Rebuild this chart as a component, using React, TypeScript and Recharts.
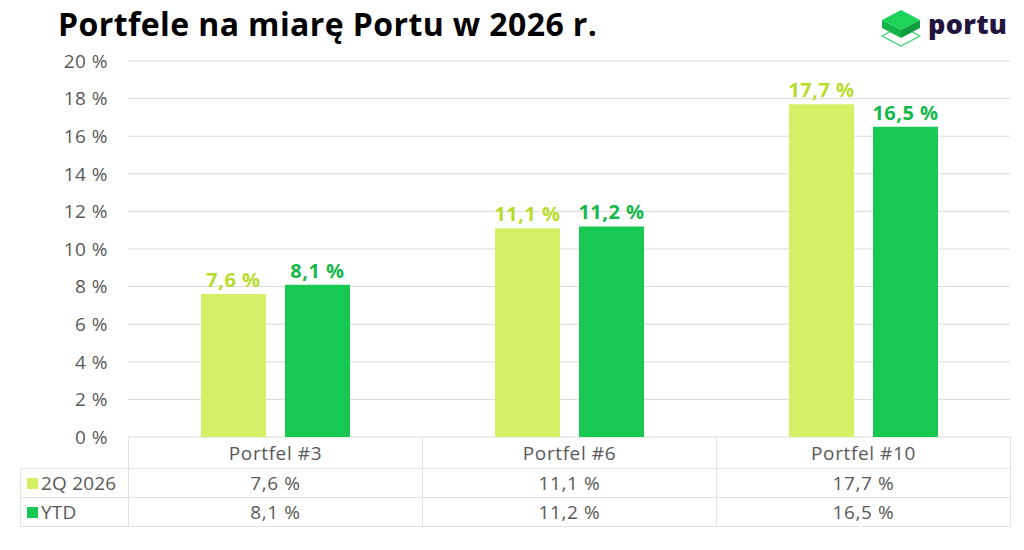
import React from "react";
import { BarChart, Bar, XAxis, YAxis, CartesianGrid, LabelList } from "recharts";

const categories = ["Portfel #3", "Portfel #6", "Portfel #10"];
const q2Values = [7.6, 11.1, 17.7];
const ytdValues = [8.1, 11.2, 16.5];
const yTicks = [0, 2, 4, 6, 8, 10, 12, 14, 16, 18, 20];
const seriesNames = ["2Q 2026", "YTD"];

const LIGHT = "#d4f064";
const DARK = "#17c952";
const LIGHT_TEXT = "#b7dc2a";
const DARK_TEXT = "#14b84a";
const FONT = "'Open Sans', sans-serif";

const data = categories.map((name, i) => ({ name, q2: q2Values[i], ytd: ytdValues[i] }));

const fmt = (v: number) => `${v.toFixed(1).replace(".", ",")} %`;

const PLOT_LEFT = 128;
const PLOT_RIGHT = 1010;
const PLOT_TOP = 61;
const PLOT_BOTTOM = 437;
const COL_W = (PLOT_RIGHT - PLOT_LEFT) / categories.length;

const Logo = () => (
  <div style={{ position: "absolute", left: 878, top: 6, display: "flex", alignItems: "center" }}>
    <svg width={46} height={44} viewBox="0 0 46 44">
      <polygon points="4,30 23,20 42,30 23,40" fill="none" stroke="#3ad36a" strokeWidth={1.2} />
      <polygon points="4,14 23,4 42,14 23,24" fill="#1ed35a" />
      <polygon points="4,14 23,24 23,32 4,22" fill="#13b548" />
      <polygon points="42,14 23,24 23,32 42,22" fill="#0f9e3e" />
    </svg>
    <span style={{ fontFamily: FONT, fontWeight: 800, fontSize: 27, color: "#22143f", marginLeft: 4, marginTop: -10, letterSpacing: 0.3 }}>
      portu
    </span>
  </div>
);

const cell: React.CSSProperties = {
  position: "absolute",
  display: "flex",
  alignItems: "center",
  justifyContent: "center",
  fontFamily: FONT,
  fontSize: 19,
  letterSpacing: 0.6,
  color: "#595959",
  boxSizing: "border-box",
};

const DataTable = () => {
  const rows = [q2Values, ytdValues];
  const colors = [LIGHT, DARK];
  const line = "1px solid #e3e3e3";
  return (
    <>
      {categories.map((c, i) => (
        <div
          key={c}
          style={{
            ...cell,
            left: PLOT_LEFT + i * COL_W,
            top: PLOT_BOTTOM,
            width: COL_W + 1,
            height: 32,
            borderLeft: line,
            borderRight: line,
          }}
        >
          {c}
        </div>
      ))}
      {rows.map((vals, r) => (
        <React.Fragment key={r}>
          <div
            style={{
              ...cell,
              left: 20,
              top: 468 + r * 29,
              width: PLOT_LEFT - 20 + 1,
              height: 30,
              border: line,
              justifyContent: "flex-start",
              paddingLeft: 6,
              letterSpacing: 0.2,
            }}
          >
            <span style={{ display: "inline-block", width: 11, height: 11, background: colors[r], marginRight: 3, flexShrink: 0 }} />
            {seriesNames[r]}
          </div>
          {vals.map((v, i) => (
            <div
              key={i}
              style={{
                ...cell,
                left: PLOT_LEFT + i * COL_W,
                top: 468 + r * 29,
                width: COL_W + 1,
                height: 30,
                border: line,
              }}
            >
              {fmt(v)}
            </div>
          ))}
        </React.Fragment>
      ))}
    </>
  );
};

export default function App() {
  return (
    <div style={{ position: "absolute", left: 0, top: 0, width: 1024, height: 550, background: "#fff", overflow: "hidden" }}>
      <div
        style={{
          position: "absolute",
          left: 58,
          top: 8,
          fontFamily: FONT,
          fontWeight: 700,
          fontSize: 32,
          lineHeight: "32px",
          letterSpacing: 0.4,
          color: "#000",
        }}
      >
        Portfele na miarę Portu w 2026 r.
      </div>
      <Logo />
      <div style={{ position: "absolute", left: 0, top: 0 }}>
        <BarChart
          width={1024}
          height={550}
          data={data}
          margin={{ top: PLOT_TOP, right: 1024 - PLOT_RIGHT, bottom: 550 - PLOT_BOTTOM, left: PLOT_LEFT - 80 }}
          barSize={65}
          barGap={19}
        >
          <CartesianGrid vertical={false} stroke="#dadada" />
          <XAxis dataKey="name" hide />
          <YAxis
            width={80}
            domain={[0, 20]}
            ticks={yTicks}
            interval={0}
            axisLine={false}
            tickLine={false}
            tickMargin={14}
            tickFormatter={(v: number) => `${v} %`}
            tick={{ fill: "#595959", fontSize: 19, fontFamily: FONT, letterSpacing: 0.5 }}
          />
          <Bar dataKey="q2" fill={LIGHT} isAnimationActive={false}>
            <LabelList
              dataKey="q2"
              position="top"
              offset={7}
              formatter={(v: number) => fmt(v)}
              style={{ fill: LIGHT_TEXT, fontSize: 20, fontWeight: 700, fontFamily: FONT, letterSpacing: 0.5 }}
            />
          </Bar>
          <Bar dataKey="ytd" fill={DARK} isAnimationActive={false}>
            <LabelList
              dataKey="ytd"
              position="top"
              offset={7}
              formatter={(v: number) => fmt(v)}
              style={{ fill: DARK_TEXT, fontSize: 20, fontWeight: 700, fontFamily: FONT, letterSpacing: 0.5 }}
            />
          </Bar>
        </BarChart>
      </div>
      <DataTable />
    </div>
  );
}
